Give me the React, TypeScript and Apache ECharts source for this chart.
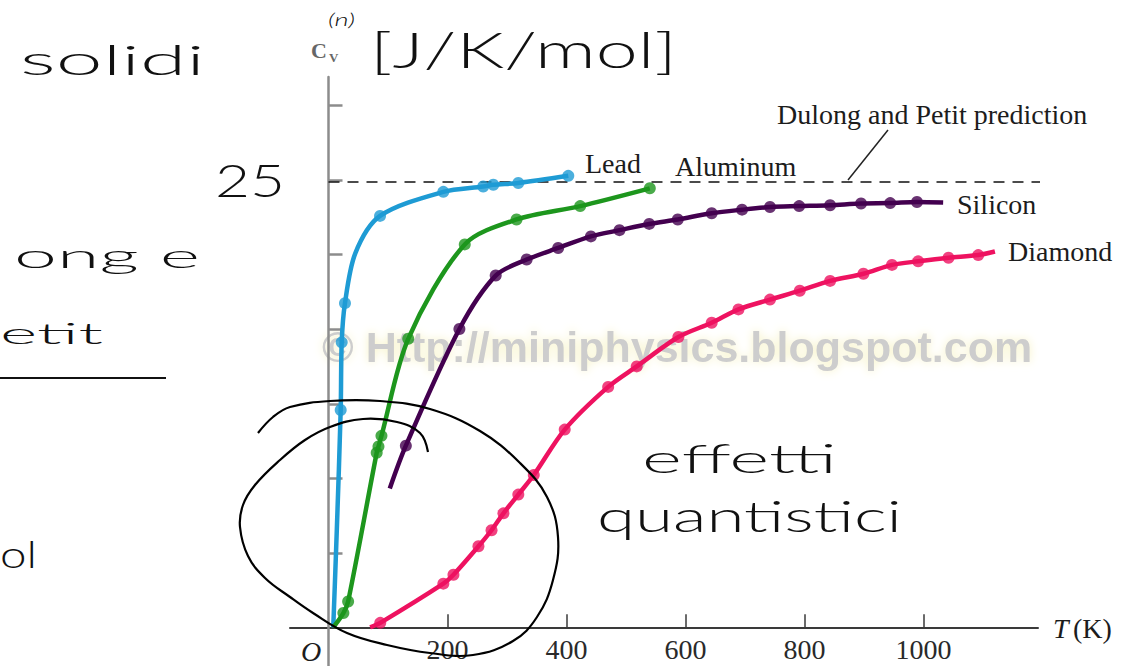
import React, { useEffect, useRef } from "react";
import * as echarts from "echarts";

// Temperature ticks (K) and vertical ticks every 1 cal/(mol·K) = 4.184 J/(mol·K)
const xTicks = [200, 400, 600, 800, 1000];
const yTicks = [4.184, 8.368, 12.552, 16.736, 20.92, 25.104, 29.288];
const dulongPetit = 25; // J/(K·mol), 3R

// Measured molar heat capacities [T (K), Cv (J/K/mol)]
const leadMeasured: [number, number][] = [
  [20.5, 12.2], [22.2, 16.0], [27.7, 18.2], [86.6, 23.1], [193, 24.45],
  [260, 24.75], [277, 24.85], [319, 24.95], [403, 25.35],
];
const leadTrace: [number, number][] = [[8, 0], [14, 5.5], [45, 21.0]];

const aluminumMeasured: [number, number][] = [
  [25, 0.8], [33, 1.45], [81, 9.8], [84, 10.15], [89, 10.75], [134, 16.2],
  [229, 21.5], [316, 22.9], [423, 23.65], [540, 24.65],
];
const aluminumTrace: [number, number][] = [[8, 0]];

const siliconMeasured: [number, number][] = [
  [130, 10.2], [220, 16.75], [281, 19.75], [333, 20.65], [386, 21.3],
  [441, 21.95], [489, 22.3], [539, 22.65], [587, 22.9], [644, 23.25],
  [695, 23.45], [742, 23.6], [791, 23.65], [843, 23.7], [895, 23.8],
  [944, 23.82], [989, 23.88],
];
const siliconTrace: [number, number][] = [[103, 7.8], [1033, 23.85]];

const diamondMeasured: [number, number][] = [
  [87, 0.25], [193, 2.45], [210, 2.95], [252, 4.55], [274, 5.45], [294, 6.4],
  [319, 7.45], [345, 8.55], [397, 11.1], [470, 13.5], [518, 14.65],
  [588, 16.3], [644, 17.1], [689, 17.85], [742, 18.4], [792, 18.9],
  [843, 19.45], [899, 19.85], [947, 20.35], [991, 20.55], [1042, 20.75],
  [1092, 20.9],
];
const diamondTrace: [number, number][] = [[70, 0], [1120, 21.1]];

const SERIF = "'Liberation Serif', 'Times New Roman', serif";
const HAND = "Lato, 'DejaVu Sans', sans-serif";

const curve = (m: [number, number][], t: [number, number][]) =>
  [...m, ...t].sort((a, b) => a[0] - b[0]);

let measureCtx: CanvasRenderingContext2D | null = null;
function textWidth(text: string, font: string) {
  if (!measureCtx) measureCtx = document.createElement("canvas").getContext("2d");
  measureCtx!.font = font;
  return measureCtx!.measureText(text).width;
}

// Handwritten note stretched to span [left, right]
function hand(text: string, left: number, right: number, cy: number, size: number, italic = false) {
  const font = `${italic ? "italic " : ""}300 ${size}px ${HAND}`;
  const w = textWidth(text, font) || 1;
  return {
    type: "text",
    x: left,
    y: cy,
    scaleX: (right - left) / w,
    z: 50,
    silent: true,
    style: {
      text,
      font,
      fill: "#111",
      align: "left",
      verticalAlign: "middle",
      textAlign: "left",
      textVerticalAlign: "middle",
    },
  };
}

function serif(text: string, x: number, cy: number, size = 28, extra: any = {}) {
  const font = `${extra.italic ? "italic " : ""}${extra.bold ? "bold " : ""}${size}px ${SERIF}`;
  return {
    type: "text",
    x,
    y: cy,
    z: 40,
    silent: true,
    style: {
      text,
      font,
      fill: extra.color || "#1c1c1c",
      align: extra.align || "left",
      verticalAlign: "middle",
      textAlign: extra.align || "left",
      textVerticalAlign: "middle",
    },
  };
}

const loopPoints = [
  [428, 452], [420, 433], [397, 422], [363, 419], [330, 427], [305, 440],
  [280, 460], [255, 485], [243, 505], [240, 527], [248, 556], [265, 578],
  [290, 597], [313, 613], [347, 633], [387, 645], [430, 653], [473, 655],
  [513, 641], [537, 617], [553, 580], [558, 537], [547, 497], [520, 463],
  [480, 431], [430, 409], [380, 401], [330, 401], [290, 407], [273, 417],
  [258, 433],
];

export default function App() {
  const ref = useRef<HTMLDivElement>(null);

  useEffect(() => {
    if (!ref.current) return;
    const chart = echarts.init(ref.current, undefined, { renderer: "svg" });

    const material = (name: string, color: string, m: [number, number][], t: [number, number][]) => [
      {
        type: "line",
        name,
        data: curve(m, t),
        smooth: 0.3,
        symbol: "none",
        lineStyle: { color, width: 4.5 },
        z: 3,
        silent: true,
      },
      {
        type: "scatter",
        name,
        data: m,
        symbol: "circle",
        symbolSize: 12,
        itemStyle: { color },
        z: 4,
        silent: true,
      },
    ];

    chart.setOption({
      animation: false,
      backgroundColor: "#ffffff",
      grid: {
        left: 290,
        right: 108,
        top: 77,
        bottom: 38.7,
        containLabel: false,
        outerBoundsMode: "none",
      },
      xAxis: {
        type: "value",
        min: -64.7,
        max: 1192.4,
        axisLine: { show: true, onZero: false, lineStyle: { color: "#3a3a3a", width: 2 } },
        axisTick: {
          show: true,
          inside: true,
          length: 13,
          customValues: xTicks,
          lineStyle: { color: "#3a3a3a", width: 1.5 },
        },
        axisLabel: {
          show: true,
          customValues: xTicks,
          formatter: (v: number) => String(v),
          fontFamily: SERIF,
          fontSize: 28,
          color: "#2a2a2a",
          margin: 8,
        },
        splitLine: { show: false },
      },
      yAxis: {
        type: "value",
        min: 0,
        max: 30.9,
        axisLine: { show: true, onZero: true, lineStyle: { color: "#8c8c8c", width: 2.5 } },
        axisTick: {
          show: true,
          inside: true,
          length: 14,
          customValues: yTicks,
          lineStyle: { color: "#8c8c8c", width: 2.5 },
        },
        axisLabel: { show: false },
        splitLine: { show: false },
      },
      series: [
        {
          type: "line",
          name: "Dulong and Petit prediction",
          data: [[0, dulongPetit], [1251, dulongPetit]],
          clip: false,
          symbol: "none",
          lineStyle: { color: "#111", width: 1.6, type: [11, 8] },
          z: 2,
          silent: true,
        },
        ...material("Lead", "#1e9bd4", leadMeasured, leadTrace),
        ...material("Aluminum", "#1d961d", aluminumMeasured, aluminumTrace),
        ...material("Silicon", "#43004f", siliconMeasured, siliconTrace),
        ...material("Diamond", "#ee1260", diamondMeasured, diamondTrace),
      ],
      graphic: [
        {
          type: "text",
          x: 322,
          y: 347,
          z: 0,
          silent: true,
          style: {
            text: "© Http://miniphysics.blogspot.com",
            font: "bold 43px 'Liberation Sans', Arial, sans-serif",
            fill: "#cdcdcd",
            align: "left",
            verticalAlign: "middle",
            textAlign: "left",
            textVerticalAlign: "middle",
            textShadowColor: "#f7f3c4",
            textShadowBlur: 10,
          },
        },
        // vertical axis continues a little below the origin
        {
          type: "line",
          z: 5,
          silent: true,
          shape: { x1: 328.5, y1: 627, x2: 328.5, y2: 666 },
          style: { stroke: "#8c8c8c", lineWidth: 2.5 },
        },
        serif("Lead", 585, 163),
        serif("Aluminum", 675, 166),
        serif("Dulong and Petit prediction", 777, 114),
        serif("Silicon", 957, 204),
        serif("Diamond", 1008, 251),
        serif("T", 1053, 628, 28, { italic: true }),
        serif("(K)", 1073, 628),
        serif("O", 311, 651, 28, { italic: true, align: "center" }),
        serif("C", 311, 50, 22, { bold: true, color: "#666" }),
        serif("V", 329, 57, 13, { bold: true, color: "#666" }),
        {
          type: "line",
          z: 40,
          silent: true,
          shape: { x1: 888, y1: 130, x2: 848, y2: 180 },
          style: { stroke: "#222", lineWidth: 1.5 },
        },
        // handwritten notes
        hand("solidi", 20, 205, 59, 42),
        hand("25", 215, 285, 179, 46),
        hand("ong e", 14, 200, 255, 33),
        hand("etit", 0, 103, 332, 30),
        hand("ol", 0, 37, 554, 37),
        hand("effetti", 642, 837, 458, 40),
        hand("quantistici", 597, 902, 515, 43),
        hand("[J/K/mol]", 370, 677, 49, 50),
        hand("(n)", 328, 355, 19, 18, true),
        {
          type: "line",
          z: 50,
          silent: true,
          shape: { x1: 0, y1: 378, x2: 166, y2: 378 },
          style: { stroke: "#111", lineWidth: 2 },
        },
        {
          type: "polyline",
          z: 50,
          silent: true,
          shape: { points: loopPoints, smooth: 0.4 },
          style: { stroke: "#000", lineWidth: 2.2, fill: "none" },
        },
      ],
    });

    return () => chart.dispose();
  }, []);

  return (
    <div
      ref={ref}
      style={{ position: "absolute", left: 0, top: 0, width: 1146, height: 666, background: "#fff" }}
    />
  );
}
